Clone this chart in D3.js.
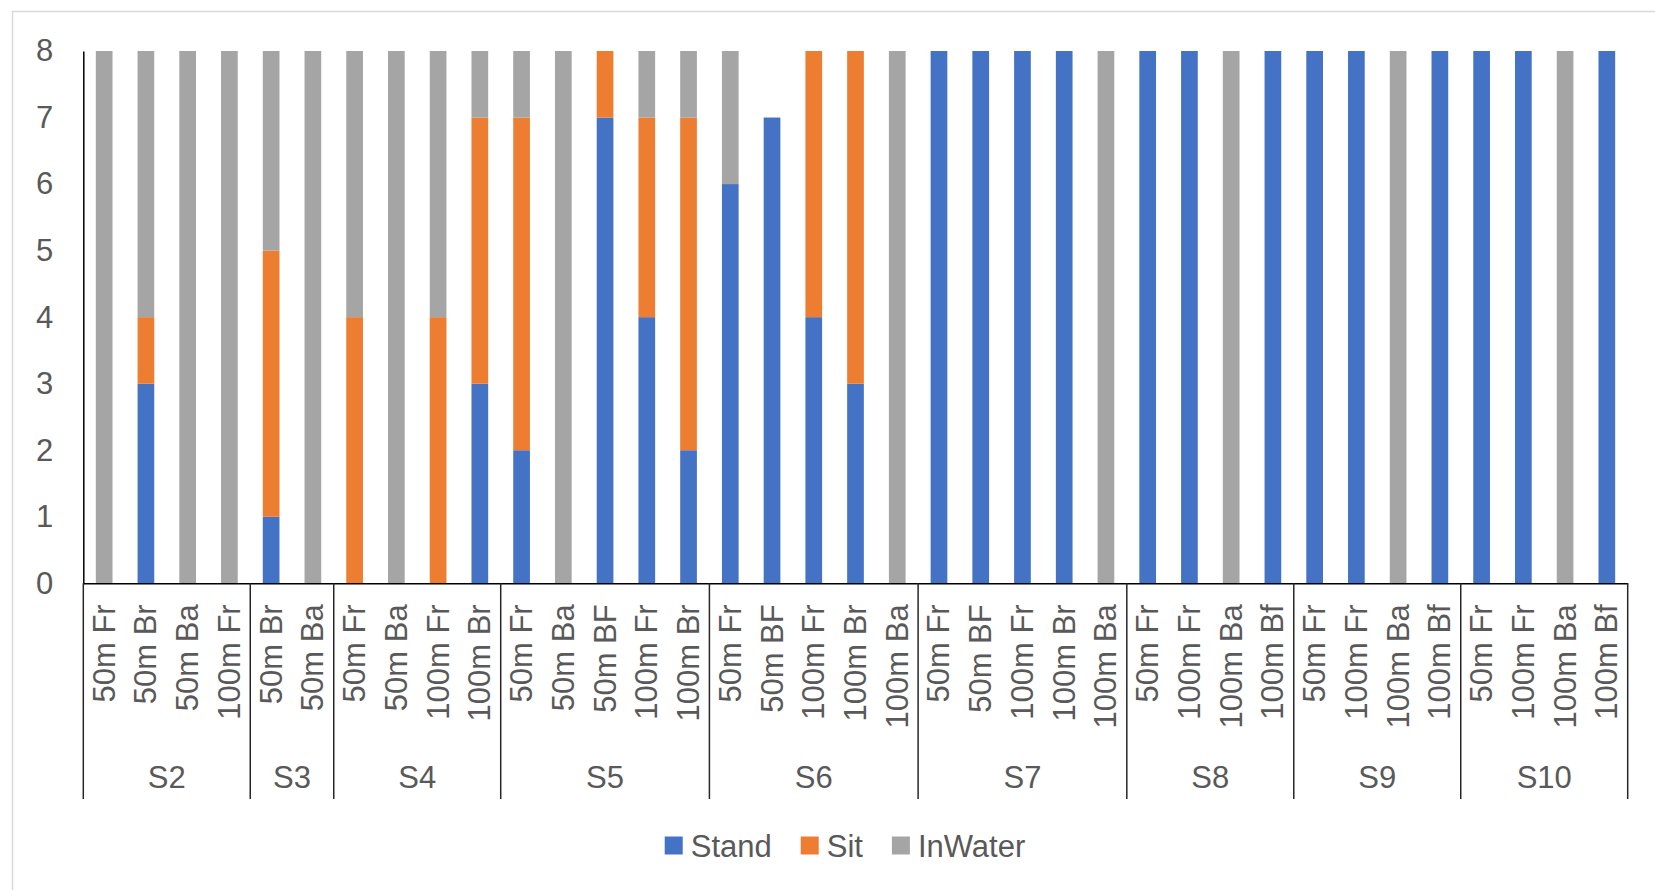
<!DOCTYPE html>
<html>
<head>
<meta charset="utf-8">
<script src="https://cdn.jsdelivr.net/npm/d3@7"></script>
<style>
  html, body { margin: 0; padding: 0; background: #fff; }
  svg { display: block; font-family: "Liberation Sans", Arial, sans-serif; }
</style>
</head>
<body>
<svg id="chart" width="1655" height="890"></svg>
<script>
// Sessions (groups) and the events swum in each
const groups = ["S2", "S3", "S4", "S5", "S6", "S7", "S8", "S9", "S10"];
const events = [
  ["50m Fr", "50m Br", "50m Ba", "100m Fr"],
  ["50m Br", "50m Ba"],
  ["50m Fr", "50m Ba", "100m Fr", "100m Br"],
  ["50m Fr", "50m Ba", "50m BF", "100m Fr", "100m Br"],
  ["50m Fr", "50m BF", "100m Fr", "100m Br", "100m Ba"],
  ["50m Fr", "50m BF", "100m Fr", "100m Br", "100m Ba"],
  ["50m Fr", "100m Fr", "100m Ba", "100m Bf"],
  ["50m Fr", "100m Fr", "100m Ba", "100m Bf"],
  ["50m Fr", "100m Fr", "100m Ba", "100m Bf"]
];

// Counts per event, in the same order as the events above
const stand = [0, 3, 0, 0,  1, 0,  0, 0, 0, 3,  2, 0, 7, 4, 2,  6, 7, 4, 3, 0,  8, 8, 8, 8, 0,  8, 8, 0, 8,  8, 8, 0, 8,  8, 8, 0, 8];
const sit   = [0, 1, 0, 0,  4, 0,  4, 0, 4, 4,  5, 0, 1, 3, 5,  0, 0, 4, 5, 0,  0, 0, 0, 0, 0,  0, 0, 0, 0,  0, 0, 0, 0,  0, 0, 0, 0];
const inWater = [8, 4, 8, 8,  3, 8,  4, 8, 4, 1,  1, 8, 0, 1, 1,  2, 0, 0, 0, 8,  0, 0, 0, 0, 8,  0, 0, 8, 0,  0, 0, 8, 0,  0, 0, 8, 0];

const yTicks = [0, 1, 2, 3, 4, 5, 6, 7, 8];
const seriesNames = ["Stand", "Sit", "InWater"];
const seriesColors = ["#4472C4", "#ED7D31", "#A5A5A5"];

// Flatten into rows keyed by a unique id
const rows = [];
let k = 0;
groups.forEach((g, gi) => {
  events[gi].forEach(ev => {
    rows.push({ id: g + "|" + k, group: g, label: ev, Stand: stand[k], Sit: sit[k], InWater: inWater[k] });
    k++;
  });
});

const svg = d3.select("#chart");
const textColor = "#595959";
const fontSize = 31;

// Chart-area frame
svg.append("rect")
  .attr("x", 12.5).attr("y", 11.5)
  .attr("width", 1700).attr("height", 1000)
  .attr("fill", "none").attr("stroke", "#d9d9d9").attr("stroke-width", 1.5);

const plotLeft = 83.3, plotRight = 1627.7, plotTop = 51, plotBottom = 583.3;

const x = d3.scaleBand()
  .domain(rows.map(d => d.id))
  .range([plotLeft, plotRight])
  .paddingInner(0.6)
  .paddingOuter(0.3);

const y = d3.scaleLinear().domain([0, 8]).range([plotBottom, plotTop]);

const stacked = d3.stack().keys(seriesNames)(rows);
const color = d3.scaleOrdinal().domain(seriesNames).range(seriesColors);

// Stacked bars
svg.append("g").selectAll("g")
  .data(stacked)
  .join("g")
    .attr("fill", d => color(d.key))
  .selectAll("rect")
  .data(d => d)
  .join("rect")
    .attr("x", d => x(d.data.id))
    .attr("width", x.bandwidth())
    .attr("y", d => y(d[1]))
    .attr("height", d => y(d[0]) - y(d[1]));

// Y axis
const yAxis = svg.append("g")
  .attr("transform", `translate(${plotLeft},0)`)
  .call(d3.axisLeft(y).tickValues(yTicks).tickFormat(d3.format("d")).tickSize(0).tickPadding(30));
yAxis.select(".domain").attr("stroke", "#000").attr("stroke-width", 1.5);
yAxis.selectAll("text")
  .attr("fill", textColor)
  .style("font-size", fontSize + "px")
  .style("font-family", "'Liberation Sans', Arial, sans-serif");

// X axis with rotated event labels
const xAxis = svg.append("g")
  .attr("transform", `translate(0,${plotBottom})`)
  .call(d3.axisBottom(x).tickSize(0).tickFormat(id => rows.find(r => r.id === id).label));
xAxis.select(".domain").attr("stroke", "#000").attr("stroke-width", 1.5);
xAxis.selectAll(".tick text")
  .attr("fill", textColor)
  .style("font-size", fontSize + "px")
  .style("font-family", "'Liberation Sans', Arial, sans-serif")
  .attr("text-anchor", "end")
  .attr("dominant-baseline", "central")
  .attr("dy", null)
  .attr("y", 0)
  .attr("transform", "translate(0,21) rotate(-90)");

// Group dividers and group labels
const divBottom = 799;
const step = x.step();
let start = 0;
const boundaries = [plotLeft];
groups.forEach((g, gi) => {
  const n = events[gi].length;
  const firstId = rows[start].id;
  const lastId = rows[start + n - 1].id;
  const x0 = x(firstId) - x.paddingInner() * step / 2;
  const x1 = x(lastId) + x.bandwidth() + x.paddingInner() * step / 2;
  boundaries.push(x1);
  svg.append("text")
    .attr("x", (x0 + x1) / 2)
    .attr("y", 788)
    .attr("text-anchor", "middle")
    .attr("fill", textColor)
    .style("font-size", fontSize + "px")
    .text(g);
  start += n;
});
boundaries[boundaries.length - 1] = plotRight;
svg.append("g").selectAll("line")
  .data(boundaries)
  .join("line")
    .attr("x1", d => d).attr("x2", d => d)
    .attr("y1", plotBottom).attr("y2", divBottom)
    .attr("stroke", "#262626").attr("stroke-width", 1.5);

// Legend
const legend = svg.append("g");
const sw = 18, gapText = 8, gapItem = 29;
let lx = 0;
seriesNames.forEach((name, i) => {
  const g = legend.append("g").attr("transform", `translate(${lx},0)`);
  g.append("rect").attr("x", 0).attr("y", -9).attr("width", sw).attr("height", sw).attr("fill", seriesColors[i]);
  const t = g.append("text")
    .attr("x", sw + gapText).attr("y", 11)
    .attr("fill", textColor)
    .style("font-size", fontSize + "px")
    .text(name);
  const w = t.node().getComputedTextLength();
  lx += sw + gapText + w + gapItem;
});
const legendWidth = lx - gapItem;
legend.attr("transform", `translate(${845 - legendWidth / 2},845.5)`);
</script>
</body>
</html>
